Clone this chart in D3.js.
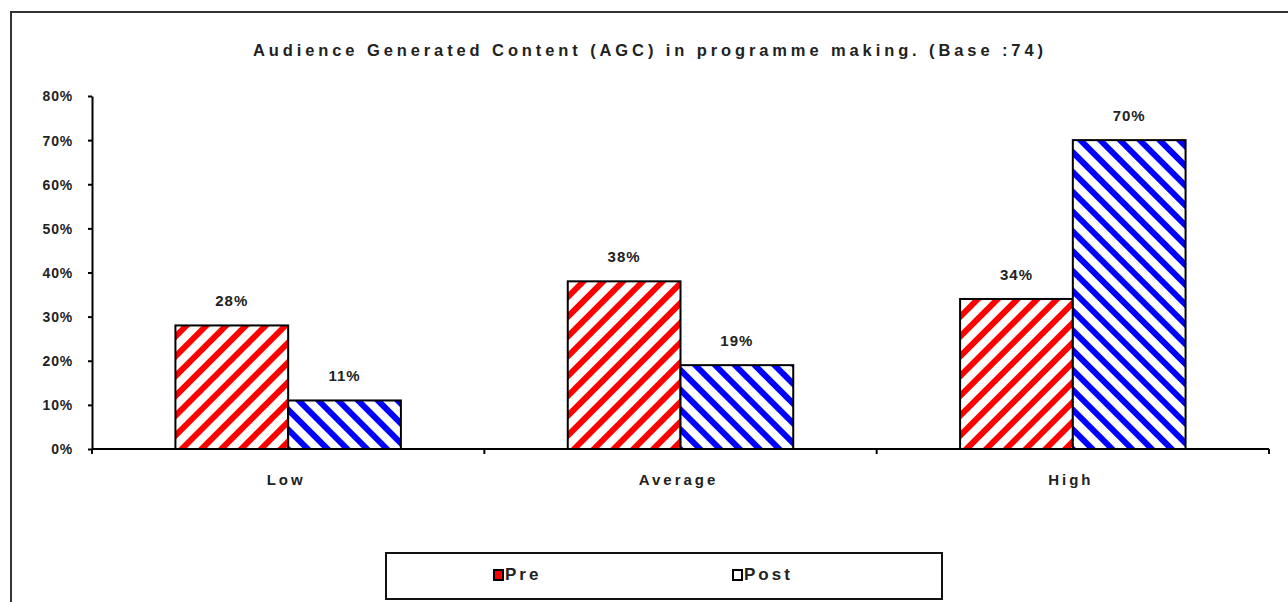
<!DOCTYPE html>
<html>
<head>
<meta charset="utf-8">
<script src="https://cdn.jsdelivr.net/npm/d3@7"></script>
<style>
  html, body { margin: 0; padding: 0; background: #fff; }
  svg { display: block; }
  text { font-family: "Liberation Sans", Arial, sans-serif; font-weight: bold; fill: #222; }
</style>
</head>
<body>
<svg id="chart" width="1288" height="602"></svg>
<script>
// Chart content
const titleText = "Audience Generated Content (AGC) in programme making. (Base :74)";
const categories = ["Low", "Average", "High"];
const seriesNames = ["Pre", "Post"];
const preValues = [28, 38, 34];
const postValues = [11, 19, 70];
const yTicks = [0, 10, 20, 30, 40, 50, 60, 70, 80];

const svg = d3.select("#chart");

// Hatch patterns: red "/" stripes for Pre, blue "\" stripes for Post
const defs = svg.append("defs");
function hatch(id, color, angle) {
  const p = defs.append("pattern")
    .attr("id", id)
    .attr("patternUnits", "userSpaceOnUse")
    .attr("width", 14).attr("height", 14)
    .attr("patternTransform", `rotate(${angle})`);
  p.append("rect").attr("width", 14).attr("height", 14).attr("fill", "#fff");
  p.append("rect").attr("x", 0).attr("y", 0).attr("width", 6).attr("height", 14).attr("fill", color);
}
hatch("hatchPre", "#ff0000", 45);
hatch("hatchPost", "#0000ff", -45);
const fills = { Pre: "url(#hatchPre)", Post: "url(#hatchPost)" };

// Outer chart frame
svg.append("rect")
  .attr("x", 11).attr("y", 12).attr("width", 1400).attr("height", 800)
  .attr("fill", "none").attr("stroke", "#333").attr("stroke-width", 2);

// Title
svg.append("text")
  .attr("x", 648).attr("y", 56)
  .attr("text-anchor", "middle")
  .attr("font-size", 16.5)
  .attr("textLength", 790).attr("lengthAdjust", "spacing")
  .text(titleText);

// Plot area
const plot = { left: 92, right: 1269, top: 96, bottom: 449 };
const y = d3.scaleLinear().domain([0, 80]).range([plot.bottom, plot.top]);
const x0 = d3.scaleBand().domain(categories).range([plot.left, plot.right]).paddingInner(0).paddingOuter(0);
const x1 = d3.scaleBand().domain(seriesNames).range([0, x0.bandwidth()]).paddingOuter(0.74).paddingInner(0);

const rows = categories.map((c, i) => ({ cat: c, vals: [
  { s: "Pre", v: preValues[i] }, { s: "Post", v: postValues[i] }
]}));

// Bars
const groups = svg.append("g").selectAll("g").data(rows).join("g")
  .attr("transform", d => `translate(${x0(d.cat)},0)`);
groups.selectAll("rect").data(d => d.vals).join("rect")
  .attr("x", d => x1(d.s))
  .attr("y", d => y(d.v))
  .attr("width", x1.bandwidth())
  .attr("height", d => y(0) - y(d.v))
  .attr("fill", d => fills[d.s])
  .attr("stroke", "#000").attr("stroke-width", 2);

// Value labels
groups.selectAll("text.val").data(d => d.vals).join("text")
  .attr("class", "val")
  .attr("x", d => x1(d.s) + x1.bandwidth() / 2)
  .attr("y", d => y(d.v) - 19)
  .attr("text-anchor", "middle")
  .attr("font-size", 15)
  .attr("fill", "#333")
  .attr("letter-spacing", 1)
  .text(d => d.v + "%");

// Y axis
const yAxis = svg.append("g")
  .attr("transform", `translate(${plot.left},0)`)
  .call(d3.axisLeft(y).tickValues(yTicks).tickFormat(d => d + "%").tickSize(4).tickSizeOuter(0));
yAxis.select(".domain").attr("stroke", "#000").attr("stroke-width", 2);
yAxis.selectAll(".tick line").attr("stroke", "#000").attr("stroke-width", 2);
yAxis.selectAll(".tick text")
  .attr("x", -19).attr("dy", "0.35em")
  .attr("font-size", 14).attr("font-family", "'Liberation Sans', Arial, sans-serif")
  .attr("font-weight", "bold").attr("fill", "#333")
  .attr("letter-spacing", 0.8);

// X axis with ticks at category boundaries
const xAxisG = svg.append("g").attr("transform", `translate(0,${plot.bottom})`);
xAxisG.append("line")
  .attr("x1", plot.left).attr("x2", plot.right)
  .attr("stroke", "#000").attr("stroke-width", 2);
const boundaries = categories.map(c => x0(c) + x0.bandwidth()).concat([plot.left]);
xAxisG.selectAll("line.tk").data(boundaries).join("line")
  .attr("class", "tk")
  .attr("x1", d => d).attr("x2", d => d)
  .attr("y1", 0).attr("y2", 5)
  .attr("stroke", "#000").attr("stroke-width", 2);
xAxisG.selectAll("text.cat").data(categories).join("text")
  .attr("class", "cat")
  .attr("x", d => x0(d) + x0.bandwidth() / 2 - 2)
  .attr("y", 36)
  .attr("text-anchor", "middle")
  .attr("font-size", 15)
  .attr("letter-spacing", 3)
  .text(d => d);

// Legend
const legend = svg.append("g");
legend.append("rect")
  .attr("x", 386).attr("y", 553).attr("width", 556).attr("height", 46)
  .attr("fill", "#fff").attr("stroke", "#111").attr("stroke-width", 2);
const legendX = d3.scalePoint().domain(seriesNames).range([494, 733]);
const li = legend.selectAll("g").data(seriesNames).join("g")
  .attr("transform", d => `translate(${legendX(d)},570)`);
li.append("rect")
  .attr("width", 9).attr("height", 10)
  .attr("fill", d => d === "Pre" ? "#ff0000" : "#fff")
  .attr("stroke", "#000").attr("stroke-width", 2);
li.append("text")
  .attr("x", 11).attr("y", 10)
  .attr("font-size", 17)
  .attr("letter-spacing", 3)
  .text(d => d);
</script>
</body>
</html>
